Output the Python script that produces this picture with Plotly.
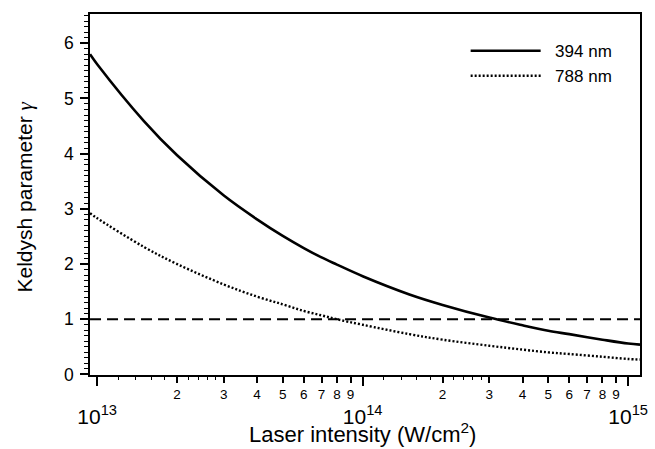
import plotly.graph_objects as go

# Data
intensity = [9.4e12, 1.0e13, 1.5e13, 2.0e13, 3.0e13, 4.0e13, 5.0e13, 6.0e13, 7.0e13, 8.0e13,
             1.0e14, 1.5e14, 2.0e14, 3.0e14, 4.0e14, 5.0e14, 6.0e14, 8.0e14, 1.0e15, 1.108e15]
gamma_394 = [5.80, 5.62, 4.59, 3.97, 3.24, 2.81, 2.51, 2.29, 2.12, 1.99,
             1.78, 1.45, 1.26, 1.03, 0.89, 0.79, 0.73, 0.63, 0.56, 0.54]
gamma_788 = [2.92, 2.83, 2.31, 2.00, 1.63, 1.41, 1.27, 1.15, 1.07, 1.00,
             0.90, 0.73, 0.63, 0.52, 0.45, 0.40, 0.37, 0.32, 0.28, 0.27]
threshold = 1.0

series_names = ["394 nm", "788 nm"]
digit_vals = [2e13, 3e13, 4e13, 5e13, 6e13, 7e13, 8e13, 9e13,
              2e14, 3e14, 4e14, 5e14, 6e14, 7e14, 8e14, 9e14]
digit_text = ["2", "3", "4", "5", "6", "7", "8", "9"] * 2
small_vals = [1.2e13, 1.4e13, 1.6e13, 1.8e13, 2.2e13, 2.4e13, 2.6e13, 2.8e13,
              1.2e14, 1.4e14, 1.6e14, 1.8e14, 2.2e14, 2.4e14, 2.6e14, 2.8e14]
decade_vals = [1e13, 1e14, 1e15]
decade_text = ["10<sup>13</sup>", "10<sup>14</sup>", "10<sup>15</sup>"]
y_ticks = [0, 1, 2, 3, 4, 5, 6]

FONT = "Liberation Sans, Arial, sans-serif"
GAP = "&nbsp;&nbsp;"

fig = go.Figure()
fig.add_trace(go.Scatter(x=intensity, y=gamma_394, mode="lines", name=GAP + series_names[0],
                         line=dict(color="black", width=2.6, shape="spline")))
fig.add_trace(go.Scatter(x=intensity, y=gamma_788, mode="lines", name=GAP + series_names[1],
                         line=dict(color="black", width=2.4, dash="2px,2px", shape="spline")))
fig.add_trace(go.Scatter(x=[intensity[0], intensity[-1]], y=[threshold, threshold], mode="lines",
                         xaxis="x2", showlegend=False,
                         line=dict(color="black", width=2, dash="11px,6px")))

fig.update_layout(
    width=655, height=449,
    margin=dict(l=90, r=7, t=14, b=74),
    paper_bgcolor="white", plot_bgcolor="white",
    font=dict(family=FONT, color="black"),
    showlegend=True,
    legend=dict(x=0.683, y=0.947, xanchor="left", yanchor="top",
                font=dict(size=17, family=FONT, color="black"), bgcolor="rgba(0,0,0,0)",
                itemwidth=70, tracegroupgap=0),
    xaxis=dict(type="log", range=[12.973, 15.0445],
               tickmode="array", tickvals=digit_vals, ticktext=digit_text,
               ticks="outside", ticklen=6, tickwidth=1.5, tickcolor="black",
               tickfont=dict(size=13.5, family=FONT, color="black"), ticklabelstandoff=0,
               showline=True, linewidth=1.5, linecolor="black", mirror=True,
               showgrid=False, zeroline=False,
               minor=dict(tickmode="array", tickvals=small_vals, ticks="outside",
                          ticklen=3, tickwidth=1, tickcolor="black")),
    xaxis2=dict(type="log", range=[12.973, 15.0445], overlaying="x", anchor="y", side="bottom",
                tickmode="array", tickvals=decade_vals, ticktext=decade_text,
                ticks="outside", ticklen=10, tickwidth=1.5, tickcolor="black",
                tickfont=dict(size=21, family=FONT, color="black"), ticklabelstandoff=13,
                showline=False, showgrid=False, zeroline=False),
    yaxis=dict(range=[-0.01, 6.53], tickmode="array", tickvals=y_ticks,
               ticks="outside", ticklen=8, tickwidth=1.5, tickcolor="black",
               tickfont=dict(size=17.5, family=FONT, color="black"), ticklabelstandoff=3,
               showline=True, linewidth=1.5, linecolor="black", mirror=True,
               showgrid=False, zeroline=False,
               minor=dict(dtick=0.1, tick0=0, ticks="outside", ticklen=4, tickwidth=1,
                          tickcolor="black")),
)

fig.add_annotation(text="Laser intensity (W/cm<sup>2</sup>)", xref="paper", yref="paper",
                   x=0.495, y=-0.162, xanchor="center", yanchor="middle", showarrow=False,
                   font=dict(size=22, family=FONT, color="black"))
fig.add_annotation(text="Keldysh parameter <span style='font-family:Liberation Serif'><i>γ</i></span>",
                   xref="paper", yref="paper", x=-0.118, y=0.492, xanchor="center", yanchor="middle",
                   textangle=-90, showarrow=False, font=dict(size=21, family=FONT, color="black"))

fig.write_html("out.html")
